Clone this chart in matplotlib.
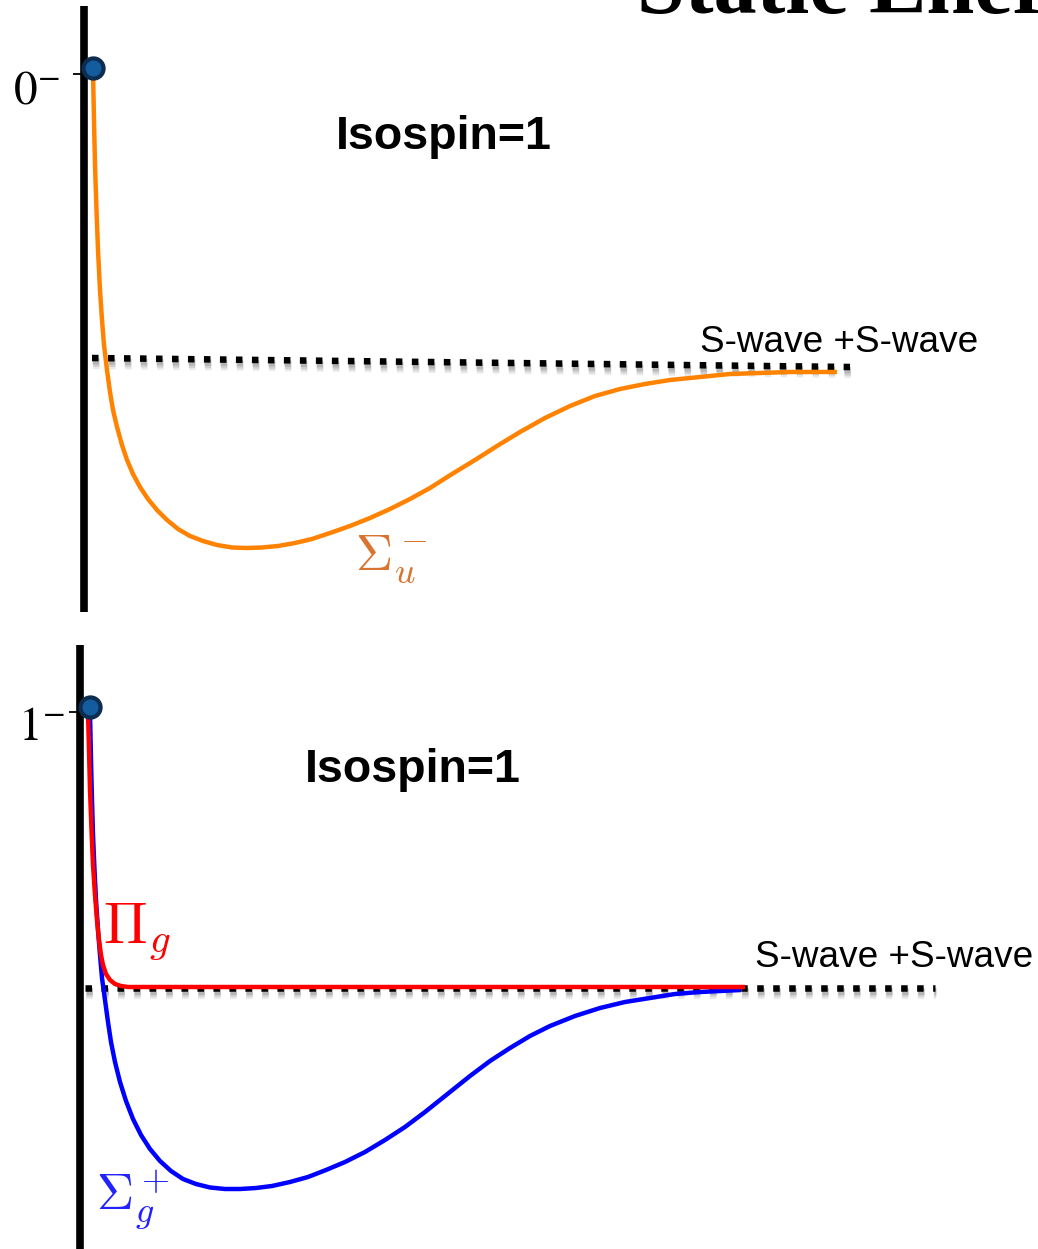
import matplotlib
matplotlib.use("Agg")
import matplotlib.pyplot as plt
import matplotlib.patheffects as pe

# Separation r and energy E are in arbitrary units; E = 0 is the S-wave + S-wave threshold.

# ---- upper panel: isospin 1, 0^- channel ----
r_sigma_u = [9, 10, 11, 12.5, 14, 16, 18, 20, 23, 26, 29, 33, 38, 43, 49, 56, 64, 73, 83,
             94, 106, 119, 133, 148, 163, 178, 194, 211, 228, 246, 266, 286, 306, 326,
             346, 368, 391, 413, 436, 461, 486, 511, 536, 561, 586, 616, 646, 676, 706, 753]
e_sigma_u = [290, 242, 197, 152, 112, 72, 42, 17, -8, -30, -48, -65, -83, -98, -112, -125,
             -137, -148, -158, -167, -174, -179, -183, -185.5, -186, -185.5, -184, -181,
             -177, -171, -164, -156, -147, -137, -126, -112, -98, -84, -70, -56, -44, -34,
             -27, -22, -18, -15, -12, -11, -10, -10]
top_threshold_r = [8, 766]
top_threshold_e = [4, -5]
top_point = (9, 294)
top_tick = 288
top_tick_label = r"$0^{-}$"

# ---- lower panel: isospin 1, 1^- channel ----
r_sigma_g = [10, 11, 12, 13, 14.5, 16, 18, 20, 22, 25, 28, 31, 35, 40, 46, 53, 61, 70, 80,
             91, 103, 116, 130, 145, 160, 176, 192, 210, 228, 246, 265, 285, 305, 325, 345,
             370, 390, 410, 430, 450, 470, 495, 520, 545, 570, 595, 620, 661]
e_sigma_g = [276, 228, 188, 153, 118, 88, 58, 33, 10, -12, -34, -54, -74, -94, -113, -131,
             -147, -161, -173, -183, -191, -196, -199.5, -201, -201, -200, -198, -194, -189,
             -182, -174, -164, -152, -139, -124, -104, -88, -73, -60, -48, -38, -28, -20,
             -14, -10, -6, -4, -2]
r_pi_g = [8, 9, 10, 11.5, 13, 15, 17, 19, 21, 23, 26, 30, 35, 41, 48, 665]
e_pi_g = [276, 238, 198, 158, 123, 93, 68, 48, 33, 23, 14, 8, 4, 2, 1, 1]
bottom_threshold_r = [5, 855]
bottom_threshold_e = [0, 0]
bottom_point = (10, 281)
bottom_tick = 276
bottom_tick_label = r"$1^{-}$"

panel_title = "Isospin=1"
threshold_label = "S-wave +S-wave"

ORANGE = "#FF8200"
ORANGE_TXT = "#D97330"
RED = "#FF0000"
BLUE = "#0000FF"
BLUE_TXT = "#2222FF"
DOT_FACE = "#135C9E"
DOT_EDGE = "#0C2C50"

fig = plt.figure(figsize=(10.38, 12.49), dpi=100)
fig.patch.set_facecolor("white")

H = 1249.0
ax_top = fig.add_axes([0, (H - 620) / H, 1, 620 / H])
ax_bot = fig.add_axes([0, 0, 1, 620 / H])

ax_top.set_xlim(-84, 954)
ax_top.set_ylim(-258, 362)
ax_bot.set_xlim(-80, 958)
ax_bot.set_ylim(-261, 359)

shadow = [
    pe.SimpleLineShadow(offset=(0.4, -2.2), shadow_color="0.3", alpha=0.20, linewidth=5.0),
    pe.SimpleLineShadow(offset=(0.6, -3.2), shadow_color="0.3", alpha=0.16, linewidth=6.2),
    pe.SimpleLineShadow(offset=(0.8, -4.2), shadow_color="0.3", alpha=0.12, linewidth=7.4),
    pe.Normal(),
]


def style_axis(ax, spine_lo, spine_hi):
    for side in ("top", "right", "bottom"):
        ax.spines[side].set_visible(False)
    ax.spines["left"].set_position(("data", 0))
    ax.spines["left"].set_linewidth(5.5)
    ax.spines["left"].set_bounds(spine_lo, spine_hi)
    ax.spines["left"].set_capstyle("butt")
    ax.set_xticks([])
    ax.patch.set_alpha(0)
    ax.tick_params(axis="y", length=8, width=1.3, direction="out", color="black",
                   labelleft=False)


style_axis(ax_top, -250, 356)
style_axis(ax_bot, -275, 343)
ax_top.set_yticks([top_tick])
ax_bot.set_yticks([bottom_tick])

# threshold lines (square dots with a soft drop shadow)
for ax, rr, ee in ((ax_top, top_threshold_r, top_threshold_e),
                   (ax_bot, bottom_threshold_r, bottom_threshold_e)):
    ln, = ax.plot(rr, ee, color="black", lw=4.7, solid_capstyle="butt",
                  dash_capstyle="butt", zorder=2)
    ln.set_dashes((1.0, 1.45))
    ln.set_path_effects(shadow)

# potential curves
curve_kw = dict(lw=3.2, solid_joinstyle="round", solid_capstyle="butt")
ax_top.plot(r_sigma_u, e_sigma_u, color=ORANGE, zorder=3, **curve_kw)
ax_bot.plot(r_sigma_g, e_sigma_g, color=BLUE, zorder=3, **curve_kw)
ax_bot.plot(r_pi_g, e_pi_g, color=RED, zorder=4, **curve_kw)

# endpoints at zero separation
for ax, pt in ((ax_top, top_point), (ax_bot, bottom_point)):
    ax.plot([pt[0]], [pt[1]], "o", ms=14.5, mfc=DOT_FACE, mec=DOT_EDGE, mew=3.0,
            zorder=6, clip_on=False)

# quantum-number labels beside the ticks
ax_top.annotate(top_tick_label, xy=(0, top_tick), xytext=(-24, -29),
                textcoords="offset pixels", ha="right", va="baseline",
                fontsize=34, math_fontfamily="stix", color="black")
ax_bot.annotate(bottom_tick_label, xy=(0, bottom_tick), xytext=(-15, -28),
                textcoords="offset pixels", ha="right", va="baseline",
                fontsize=34, math_fontfamily="stix", color="black")

# panel headings
ax_top.text(360, 225, panel_title, ha="center", va="center", fontsize=33.6,
            fontweight="bold", family="Liberation Sans")
ax_bot.text(333, 218, panel_title, ha="center", va="center", fontsize=33.6,
            fontweight="bold", family="Liberation Sans")

# threshold annotations
ax_top.text(616, 10, threshold_label, ha="left", va="baseline", fontsize=26.6,
            family="Liberation Sans")
ax_bot.text(675, 21, threshold_label, ha="left", va="baseline", fontsize=26.6,
            family="Liberation Sans")

# curve names
ax_top.text(271, -208, r"$\Sigma_u^-$", ha="left", va="baseline", fontsize=37,
            color=ORANGE_TXT, math_fontfamily="cm")
ax_bot.text(23, 45, r"$\Pi_g$", ha="left", va="baseline", fontsize=42,
            color=RED, math_fontfamily="cm")
ax_bot.text(16, -222, r"$\Sigma_g^+$", ha="left", va="baseline", fontsize=37,
            color=BLUE_TXT, math_fontfamily="cm")

# slide heading, running off the top edge
fig.text(637 / 1038, 1 - 13 / H, "Static Energies", ha="left", va="baseline",
         fontsize=62, fontweight="bold", family="Liberation Serif", color="black")

fig.savefig("out.png", dpi=100)
